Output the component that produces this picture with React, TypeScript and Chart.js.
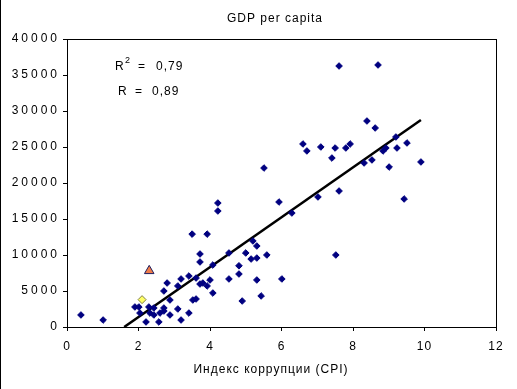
import React, { useEffect, useRef } from "react";
import { Chart, registerables } from "chart.js";

Chart.register(...registerables);

const cpi: number[] = [
  0.39, 1.01, 1.9, 2.01, 2.04, 2.21, 2.29, 2.43, 2.32, 2.43, 2.57, 2.6, 2.71, 2.71, 2.71, 2.8,
  2.88, 2.88, 3.1, 3.1, 3.19, 3.19, 3.41, 3.41, 3.5, 3.52, 3.61, 3.61, 3.72, 3.72, 3.72, 3.8,
  3.92, 3.92, 4.0, 4.08, 4.08, 4.22, 4.22, 4.53, 4.53, 4.81, 4.81, 4.9, 5.0, 5.2, 5.31, 5.15,
  5.31, 5.31, 5.43, 5.59, 6.01, 5.51, 5.93, 6.29, 6.6, 6.71, 7.1, 7.02, 7.41, 7.5, 7.52, 7.61,
  7.61, 7.8, 7.92, 8.39, 8.62, 8.31, 8.53, 8.7, 8.84, 8.92, 9.01, 9.2, 9.23, 9.43, 9.51, 9.9,
];
const gdp: number[] = [
  1670, 970, 2780, 2780, 1940, 700, 2780, 2640, 1940, 1670, 700, 1940, 2640, 2220, 5000, 6110,
  3750, 1670, 2500, 5700, 6670, 970, 1940, 7080, 12900, 3750, 3890, 6800, 10140, 9030, 5970, 6110,
  12900, 5700, 6530, 8610, 4720, 17220, 16110, 10280, 6670, 8500, 7360, 3610, 10280, 11950, 11250, 9440,
  9580, 6530, 4310, 10000, 6670, 22080, 17360, 15830, 25420, 24450, 25000, 18060, 23470, 24860, 10000, 18890,
  36250, 24860, 25420, 28610, 27640, 22780, 23200, 36390, 24450, 24860, 22220, 26390, 24860, 17780, 25560, 22920,
];

const triangleX: number[] = [2.3];
const triangleY: number[] = [7800];
const yellowX: number[] = [2.1];
const yellowY: number[] = [3800];

const trendX: number[] = [1.6, 9.9];
const trendY: number[] = [0, 28750];

const xTicks: number[] = [0, 2, 4, 6, 8, 10, 12];
const yTicks: number[] = [0, 5000, 10000, 15000, 20000, 25000, 30000, 35000, 40000];

const chartTitle = "GDP per capita";
const xTitle = "Индекс коррупции (CPI)";
const r2Value = "0,79";
const rValue = "0,89";

const FONT = "'Liberation Sans', Arial, sans-serif";

export default function App() {
  const ref = useRef<HTMLCanvasElement | null>(null);

  useEffect(() => {
    if (!ref.current) return;
    const setSpacing = (chart: any, v: string) => {
      try {
        (chart.ctx as any).letterSpacing = v;
      } catch (e) {}
    };
    const decor = {
      id: "decor",
      beforeLayout(chart: any) {
        setSpacing(chart, "1px");
      },
      beforeDraw(chart: any) {
        setSpacing(chart, "1px");
        const ys = chart.scales.y;
        if (ys && !ys.__wrapped) {
          const orig = ys.drawLabels.bind(ys);
          ys.drawLabels = (area: any) => {
            const prev = (chart.ctx as any).letterSpacing;
            (chart.ctx as any).letterSpacing = "3px";
            orig(area);
            (chart.ctx as any).letterSpacing = prev;
          };
          ys.__wrapped = true;
        }
        const ctx = chart.ctx;
        ctx.save();
        ctx.fillStyle = "#ffffff";
        ctx.fillRect(0, 0, chart.width, chart.height);
        ctx.restore();
      },
      afterDraw(chart: any) {
        const ctx = chart.ctx;
        const a = chart.chartArea;
        ctx.save();
        (ctx as any).letterSpacing = "1px";
        ctx.strokeStyle = "#000";
        ctx.lineWidth = 1;
        ctx.strokeRect(Math.round(a.left) + 0.5, Math.round(a.top) + 0.5, Math.round(a.right - a.left), Math.round(a.bottom - a.top));
        ctx.beginPath();
        ctx.moveTo(0.5, 0);
        ctx.lineTo(0.5, chart.height);
        ctx.stroke();
        ctx.fillStyle = "#000";
        ctx.textBaseline = "middle";
        ctx.textAlign = "center";
        ctx.font = `12px ${FONT}`;
        ctx.fillText(chartTitle, 275, 19);
        ctx.fillText(xTitle, 271, 370);
        ctx.textAlign = "left";
        ctx.fillText("R", 115, 67);
        ctx.font = `9px ${FONT}`;
        ctx.fillText("2", 125, 61);
        ctx.font = `12px ${FONT}`;
        ctx.fillText("=", 138, 67);
        ctx.fillText(r2Value, 156, 67);
        ctx.fillText("R", 118, 92);
        ctx.fillText("=", 135, 92);
        ctx.fillText(rValue, 152, 92);
        ctx.restore();
      },
    };

    const chart = new Chart(ref.current, {
      type: "scatter",
      data: {
        datasets: [
          {
            type: "line",
            data: trendX.map((x, i) => ({ x, y: trendY[i] })),
            borderColor: "#000000",
            borderWidth: 2.5,
            pointRadius: 0,
            fill: false,
            order: 2,
          } as any,
          {
            data: cpi.map((x, i) => ({ x, y: gdp[i] })),
            pointStyle: "rectRot",
            pointRadius: 3.3,
            backgroundColor: "#000080",
            borderColor: "#000080",
            borderWidth: 1,
            order: 1,
          },
          {
            data: yellowX.map((x, i) => ({ x, y: yellowY[i] })),
            pointStyle: "rectRot",
            pointRadius: 4,
            backgroundColor: "#FFFF66",
            borderColor: "#808040",
            borderWidth: 1,
            order: 0,
          },
          {
            data: triangleX.map((x, i) => ({ x, y: triangleY[i] })),
            pointStyle: "triangle",
            pointRadius: 5.5,
            backgroundColor: "#F07C48",
            borderColor: "#202060",
            borderWidth: 1,
            order: 0,
          },
        ],
      },
      options: {
        responsive: false,
        animation: false,
        devicePixelRatio: 1,
        layout: { padding: { left: 0, right: 21, top: 39, bottom: 0 } },
        plugins: { legend: { display: false }, tooltip: { enabled: false }, title: { display: false } },
        scales: {
          x: {
            type: "linear",
            min: 0,
            max: 12,
            afterBuildTicks: (s: any) => {
              s.ticks = xTicks.map((v) => ({ value: v }));
            },
            afterFit: (s: any) => {
              s.height = 62;
            },
            grid: { display: true, drawOnChartArea: false, drawTicks: true, tickLength: 4, tickColor: "#000", color: "#000" },
            border: { display: true, color: "#000", width: 1 },
            ticks: { color: "#000", font: { family: FONT, size: 12 }, padding: 8, maxRotation: 0, autoSkip: false },
          },
          y: {
            type: "linear",
            min: 0,
            max: 40000,
            afterBuildTicks: (s: any) => {
              s.ticks = yTicks.map((v) => ({ value: v }));
            },
            afterFit: (s: any) => {
              s.width = 67;
            },
            grid: { display: true, drawOnChartArea: false, drawTicks: true, tickLength: 4, tickColor: "#000", color: "#000" },
            border: { display: true, color: "#000", width: 1 },
            ticks: {
              color: "#000",
              font: { family: FONT, size: 12 },
              padding: 3,
              autoSkip: false,
              callback: (v: any) => String(v),
            },
          },
        },
      },
      plugins: [decor],
    });
    return () => chart.destroy();
  }, []);

  return (
    <div style={{ position: "fixed", left: 0, top: 0, width: 517, height: 389, background: "#fff" }}>
      <canvas ref={ref} width={517} height={389} style={{ display: "block", width: 517, height: 389 }} />
    </div>
  );
}
